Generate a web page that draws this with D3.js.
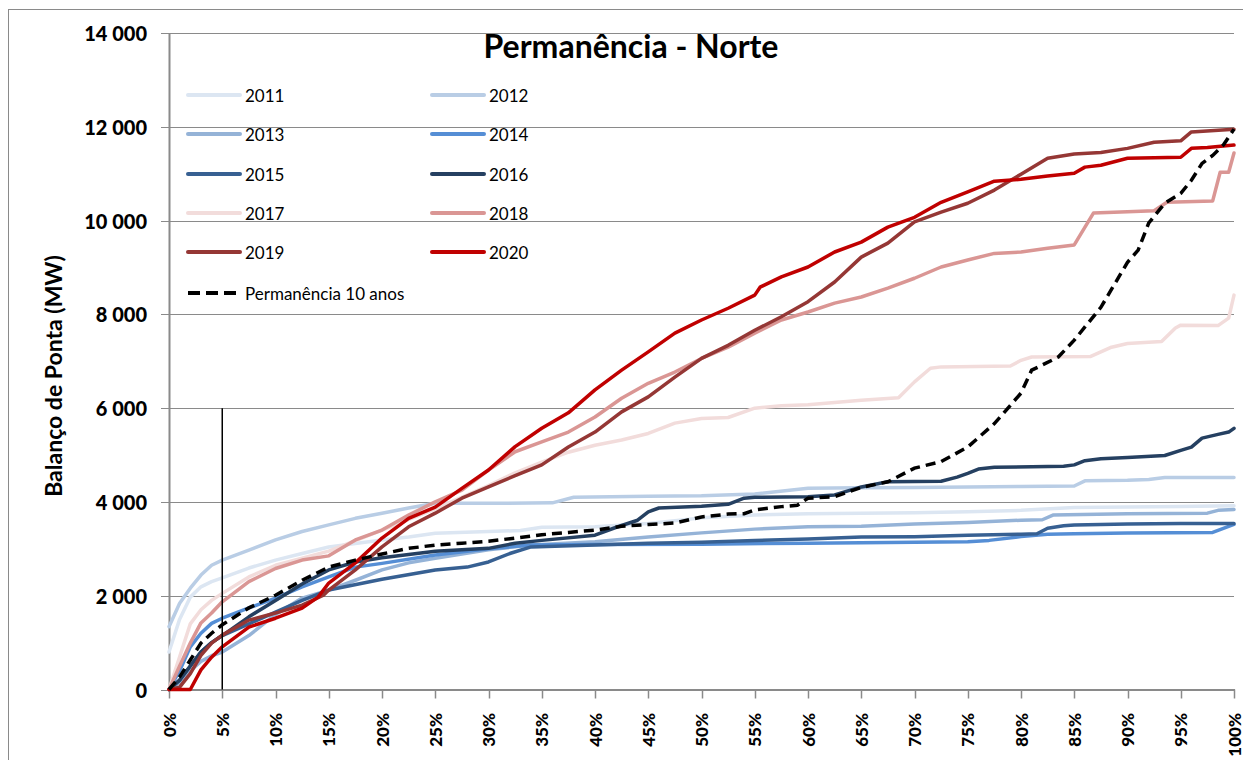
<!DOCTYPE html>
<html>
<head>
<meta charset="utf-8">
<script src="https://cdn.jsdelivr.net/npm/d3@7"></script>
<style>
  body { margin: 0; background: #fff; }
  text { font-family: Lato, "Open Sans", sans-serif; fill: #000; }
</style>
</head>
<body>
<svg id="chart" width="1243" height="760"></svg>
<script>
// values: [percent of time, MW]
const s2011 = [[0,800],[1,1500],[2,1970],[3,2190],[4,2300],[5,2380],[7.5,2590],[10,2760],[12.5,2900],[15,3040],[20,3190],[22.5,3250],[25,3330],[30,3370],[33,3390],[35,3460],[40,3470],[45,3540],[50,3660],[55,3720],[60,3750],[70,3770],[75,3790],[80,3820],[85,3880],[90,3890],[95,3900],[100,3920]];
const s2012 = [[0,1340],[1,1840],[2,2160],[3,2440],[4,2650],[5,2760],[7.5,2970],[10,3190],[12.5,3370],[15,3510],[17.5,3650],[20,3760],[22.5,3870],[25,3970],[30,3970],[36,3980],[38,4100],[45,4120],[50,4130],[55,4170],[60,4290],[65,4300],[70,4310],[75,4320],[80,4330],[85,4340],[86,4450],[90,4460],[92,4480],[93.5,4520],[100,4520]];
const s2013 = [[0,0],[1,150],[2,400],[3,600],[4,720],[5,800],[7.5,1150],[10,1600],[12.5,1950],[15,2120],[17.5,2330],[20,2550],[22.5,2700],[25,2800],[30,2980],[34,3080],[40,3150],[45,3250],[50,3340],[55,3420],[60,3470],[65,3480],[70,3530],[75,3560],[80,3610],[82,3620],[83,3720],[90,3750],[97.5,3760],[98.5,3820],[100,3840]];
const s2014 = [[0,0],[1,400],[2,910],[3,1200],[4,1410],[5,1520],[7.5,1740],[10,1950],[12.5,2190],[15,2400],[17.5,2610],[20,2690],[25,2870],[30,3000],[34,3080],[40,3090],[50,3100],[60,3120],[70,3140],[75,3150],[77,3180],[80,3260],[82.5,3310],[85,3320],[90,3340],[98,3350],[100,3520]];
const s2015 = [[0,0],[1,200],[2,500],[3,800],[4,1000],[5,1150],[7.5,1400],[10,1650],[12.5,1900],[15,2120],[20,2350],[25,2550],[28,2610],[30,2720],[32,2900],[34,3040],[40,3080],[45,3120],[50,3140],[55,3180],[60,3210],[65,3250],[70,3260],[75,3290],[80,3310],[81.5,3320],[82.5,3440],[84,3490],[85,3510],[90,3530],[95,3540],[100,3540]];
const s2016 = [[0,0],[1,200],[2,500],[3,800],[4,1000],[5,1150],[7.5,1550],[10,1900],[12.5,2250],[15,2550],[17.5,2720],[20,2810],[22.5,2880],[25,2950],[30,3010],[32.5,3120],[35,3180],[40,3290],[42,3460],[44,3610],[45,3790],[46,3870],[50,3910],[52.5,3950],[54,4080],[55,4100],[60,4110],[62.5,4150],[65,4320],[67.5,4430],[72.5,4440],[74,4530],[75,4610],[76,4700],[77.5,4740],[84,4760],[85,4790],[86,4880],[87.5,4920],[90,4950],[93.5,4990],[95,5100],[96,5170],[97,5360],[98.5,5440],[99.5,5490],[100,5570]];
const s2017 = [[0,0],[1,700],[2,1400],[3,1700],[4,1900],[5,2050],[7.5,2400],[10,2650],[12.5,2800],[15,2950],[20,3400],[25,3850],[30,4350],[32.5,4620],[35,4850],[37.5,5060],[40,5210],[42.5,5320],[45,5460],[47.5,5680],[50,5780],[52.5,5800],[55,6000],[57.5,6050],[60,6070],[65,6170],[68.5,6220],[70,6560],[71.5,6850],[72.5,6880],[79,6900],[80,7020],[81,7090],[86.5,7100],[88.5,7300],[90,7380],[93.2,7420],[94.5,7710],[95,7770],[98.5,7760],[99.5,7920],[100,8410]];
const s2018 = [[0,0],[1,500],[2,990],[3,1420],[4,1630],[5,1870],[7.5,2300],[10,2580],[12.5,2760],[15,2850],[17.5,3190],[20,3400],[22.5,3720],[25,4000],[27.5,4250],[30,4680],[32.5,5070],[35,5280],[37.5,5490],[40,5810],[42.5,6210],[45,6530],[47.5,6770],[50,7060],[52.5,7300],[55,7600],[57.5,7880],[60,8050],[62.5,8240],[65,8370],[67.5,8560],[70,8770],[72.5,9010],[75,9160],[77.5,9300],[80,9330],[82.5,9410],[85,9480],[86.8,10160],[90,10190],[92.5,10210],[93.7,10390],[98,10420],[98.7,11030],[99.5,11030],[100,11440]];
const s2019 = [[0,0],[1,50],[2,340],[3,730],[4,990],[5,1160],[7.5,1480],[10,1630],[12.5,1800],[14.5,2010],[15,2120],[17.5,2550],[20,3040],[22.5,3470],[25,3760],[27.5,4080],[30,4320],[32.5,4560],[35,4790],[37.5,5170],[40,5490],[42.5,5920],[45,6240],[47.5,6660],[50,7060],[52.5,7340],[55,7660],[57.5,7950],[60,8270],[62.5,8690],[65,9220],[67.5,9520],[70,9970],[72.5,10180],[75,10370],[77.5,10650],[80,10990],[82.5,11330],[85,11420],[87.5,11450],[90,11540],[92.5,11670],[95,11700],[96,11890],[100,11950]];
const s2020 = [[0,0],[2,0],[3,420],[4,690],[5,910],[7.5,1330],[10,1520],[12.5,1735],[14,1970],[15,2270],[17.5,2700],[20,3230],[22.5,3650],[25,3890],[27.5,4290],[30,4680],[32.5,5180],[35,5570],[37.5,5900],[40,6390],[42.5,6810],[45,7200],[47.5,7600],[50,7880],[52.5,8130],[55,8410],[55.5,8580],[57.5,8800],[60,9010],[62.5,9330],[65,9540],[67.5,9860],[70,10070],[72.5,10390],[75,10610],[77.5,10840],[80,10880],[82.5,10950],[85,11010],[86,11140],[87.5,11180],[90,11330],[95,11350],[96,11540],[97.5,11560],[100,11610]];
const perm10 = [[0,0],[1,270],[2,630],[3,990],[4,1200],[5,1380],[7.5,1740],[10,2010],[12.5,2330],[15,2610],[17.5,2760],[20,2890],[22.5,3010],[25,3080],[27.5,3120],[30,3160],[32.5,3230],[35,3300],[37.5,3350],[40,3400],[42.5,3480],[45,3520],[47.5,3550],[50,3680],[52.5,3740],[54,3750],[55,3830],[57.5,3900],[59,3930],[60,4080],[62.5,4110],[65,4310],[67.5,4430],[70,4720],[72.5,4860],[75,5170],[77.5,5670],[80,6320],[81,6810],[82,6920],[83.5,7090],[85,7450],[87.5,8150],[90,9110],[91,9370],[92,9950],[93.5,10370],[95,10580],[96,10860],[97,11220],[98,11390],[99,11610],[100,11950]];

const yearNames = ['2011','2012','2013','2014','2015','2016','2017','2018','2019','2020'];
const yearValues = [s2011, s2012, s2013, s2014, s2015, s2016, s2017, s2018, s2019, s2020];
const yearColors = ['#dce6f2','#b9cde5','#95b3d7','#558ed5','#376092','#254061','#f2dcdb','#da9694','#953735','#c00000'];
const permName = 'Permanência 10 anos';
const markerLine = [[5,0],[5,6000]];
const yTicks = [0,2000,4000,6000,8000,10000,12000,14000];
const xTicks = d3.range(0, 101, 5);

const svg = d3.select('#chart'),
  plotLeft = 169, plotRight = 1234, plotTop = 33, plotBottom = 689.5,
  x = d3.scaleLinear().domain([0, 100]).range([plotLeft, plotRight]),
  y = d3.scaleLinear().domain([0, 14000]).range([plotBottom, plotTop]),
  gridColor = '#8a8a8a';

// outer chart frame
svg.append('rect')
  .attr('x', 8.5).attr('y', 9.5)
  .attr('width', 1260).attr('height', 800)
  .attr('fill', 'none').attr('stroke', gridColor);

// horizontal grid + y ticks
svg.append('g')
  .selectAll('line')
  .data(yTicks)
  .join('line')
  .attr('x1', plotLeft - 8).attr('x2', plotRight)
  .attr('y1', d => Math.round(y(d)) + 0.5).attr('y2', d => Math.round(y(d)) + 0.5)
  .attr('stroke', gridColor);

svg.append('g')
  .selectAll('text')
  .data(yTicks)
  .join('text')
  .attr('x', 147).attr('y', d => y(d))
  .attr('text-anchor', 'end')
  .attr('dominant-baseline', 'central')
  .style('font-size', '20px').style('font-weight', '900')
  .text(d => d3.format(',')(d).replace(',', ' '));

// axes lines
svg.append('line')
  .attr('x1', plotLeft + 0.5).attr('x2', plotLeft + 0.5)
  .attr('y1', plotTop).attr('y2', plotBottom)
  .attr('stroke', gridColor).attr('stroke-width', 2);

svg.append('line')
  .attr('x1', plotLeft).attr('x2', plotRight + 1)
  .attr('y1', plotBottom + 0.5).attr('y2', plotBottom + 0.5)
  .attr('stroke', gridColor).attr('stroke-width', 2);

svg.append('g')
  .selectAll('line')
  .data(xTicks)
  .join('line')
  .attr('x1', d => Math.round(x(d)) + 0.5).attr('x2', d => Math.round(x(d)) + 0.5)
  .attr('y1', plotBottom).attr('y2', plotBottom + 9)
  .attr('stroke', gridColor).attr('stroke-width', 1.5);

svg.append('g')
  .selectAll('text')
  .data(xTicks)
  .join('text')
  .attr('transform', d => `translate(${x(d)},713) rotate(-90)`)
  .attr('text-anchor', 'end')
  .attr('dominant-baseline', 'central')
  .style('font-size', '17px').style('font-weight', '900')
  .text(d => d + '%');

// axis title
svg.append('text')
  .attr('transform', 'translate(53,376) rotate(-90)')
  .attr('text-anchor', 'middle')
  .attr('dominant-baseline', 'central')
  .style('font-size', '23px').style('font-weight', 'bold')
  .text('Balanço de Ponta (MW)');

// chart title
svg.append('text')
  .attr('x', 631).attr('y', 58)
  .attr('text-anchor', 'middle')
  .style('font-size', '32px').style('font-weight', 'bold')
  .text('Permanência - Norte');

const line = d3.line().x(d => x(d[0])).y(d => y(d[1]));

svg.append('g')
  .selectAll('path')
  .data(yearValues)
  .join('path')
  .attr('d', line)
  .attr('fill', 'none')
  .attr('stroke', (d, i) => yearColors[i])
  .attr('stroke-width', 3.5)
  .attr('stroke-linejoin', 'round')
  .attr('stroke-linecap', 'round');

svg.append('path')
  .attr('d', line(perm10))
  .attr('fill', 'none')
  .attr('stroke', '#000')
  .attr('stroke-width', 3.5)
  .attr('stroke-dasharray', '10 6')
  .attr('stroke-linecap', 'butt');

svg.append('path')
  .attr('d', line(markerLine))
  .attr('stroke', '#000')
  .attr('stroke-width', 1.5);

// legend, two columns
const legendRows = [95, 134, 174, 213, 252];
const legend = svg.append('g')
  .selectAll('g')
  .data(yearNames)
  .join('g')
  .attr('transform', (d, i) => `translate(${i % 2 ? 432 : 188},${legendRows[Math.floor(i / 2)]})`);

legend.append('line')
  .attr('x1', 0).attr('x2', 52)
  .attr('stroke', (d, i) => yearColors[i])
  .attr('stroke-width', 4)
  .attr('stroke-linecap', 'round');

legend.append('text')
  .attr('x', 57)
  .attr('dominant-baseline', 'central')
  .style('font-size', '17px')
  .text(d => d);

const permLegend = svg.append('g').attr('transform', 'translate(188,293)');
permLegend.append('line')
  .attr('x1', 0).attr('x2', 48)
  .attr('stroke', '#000').attr('stroke-width', 4)
  .attr('stroke-dasharray', '12 6');
permLegend.append('text')
  .attr('x', 57)
  .attr('dominant-baseline', 'central')
  .style('font-size', '17px')
  .text(permName);
</script>
</body>
</html>
